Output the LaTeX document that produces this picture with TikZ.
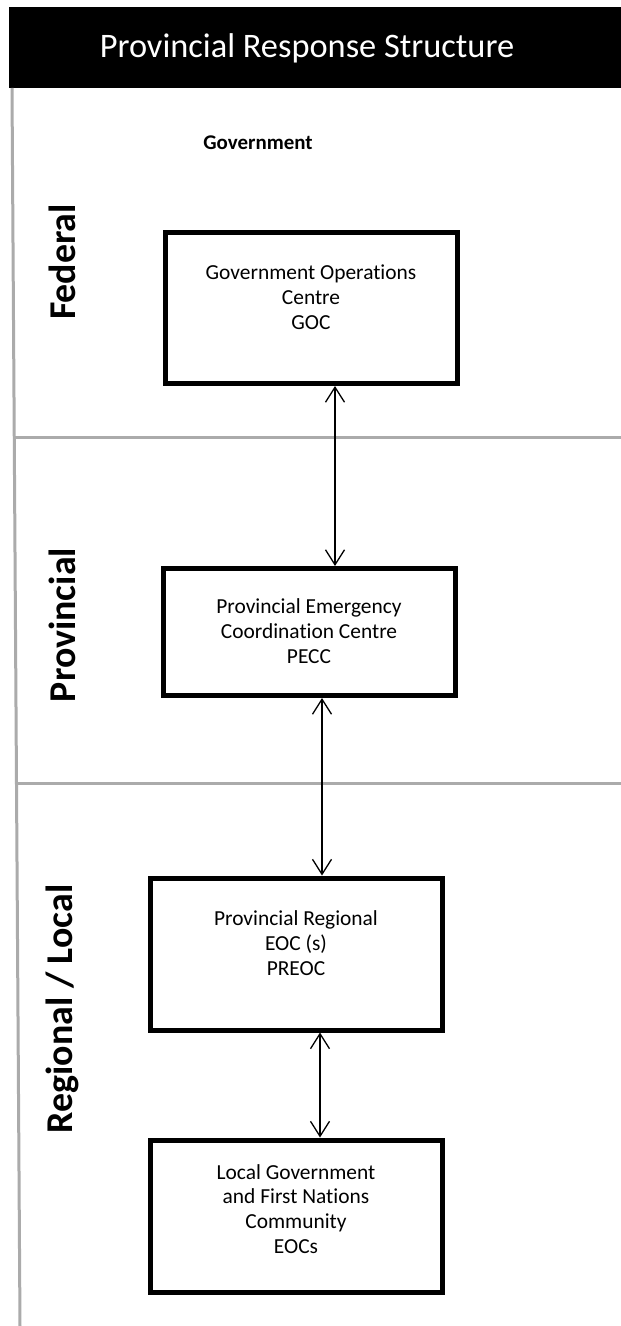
\documentclass[tikz,border=0pt]{standalone}
\usepackage{fontspec}
\setmainfont{Carlito}[RawFeature={-liga}]
\usetikzlibrary{arrows.meta}
\begin{document}
\begin{tikzpicture}[x=1bp,y=-1bp,
  box/.style={draw=black, line width=5bp, minimum width=292bp, inner sep=0pt},
  boxtext/.style={align=center, font=\fontsize{21.5}{25}\selectfont, inner sep=0pt},
  sep/.style={draw=black!33, line width=3bp},
  link/.style={line width=1.3bp,
    {Straight Barb[length=15bp,width=19bp]}-{Straight Barb[length=15bp,width=19bp]}},
  lvl/.style={rotate=90, font=\bfseries\fontsize{38}{42}\selectfont}]
\useasboundingbox (0,0) rectangle (621,1326);
\fill[black] (9,7) rectangle (621,88);
\node[text=white, font=\fontsize{34.5}{38}\selectfont] (title) at (307,48) {Provincial Response Structure};
\coordinate (lt) at (12,88);
\coordinate (lb) at (20,1326);
\draw[sep] (lt) -- (lb);
\coordinate (s1l) at (13.5,437);
\coordinate (s1r) at (621,437);
\coordinate (s2l) at (15.5,783);
\coordinate (s2r) at (621,783);
\draw[sep] (s1l) -- (s1r);
\draw[sep] (s2l) -- (s2r);
\node[font=\bfseries\fontsize{21}{24}\selectfont] (gov) at (258,143) {Government};
\node[lvl] (fed) at (62,262) {Federal};
\node[lvl] (prov) at (62,625) {Provincial};
\node[lvl] (reg) at (62,1009) {Regional / Local};
\node[box, minimum height=151bp] (goc) at (311,308) {};
\node[box, minimum height=127bp] (pecc) at (309,632) {};
\node[box, minimum height=152bp] (preoc) at (296,954) {};
\node[box, minimum height=152bp] (loc) at (296,1216) {};
\node[boxtext] (goct) at ([yshift=11bp]goc.center) {Government Operations\\Centre\\GOC};
\node[boxtext] (pecct) at ([yshift=1bp]pecc.center) {Provincial Emergency\\Coordination Centre\\PECC};
\node[boxtext] (preoct) at ([yshift=11bp]preoc.center) {Provincial Regional\\EOC (s)\\PREOC};
\node[boxtext] (loct) at ([yshift=7bp]loc.center) {Local Government\\and First Nations\\Community\\EOCs};
\draw[link] (goc.south -| 335,0) -- (pecc.north -| 335,0);
\draw[link] (pecc.south -| 322,0) -- (preoc.north -| 322,0);
\draw[link] (preoc.south -| 320,0) -- (loc.north -| 320,0);
\end{tikzpicture}
\end{document}
